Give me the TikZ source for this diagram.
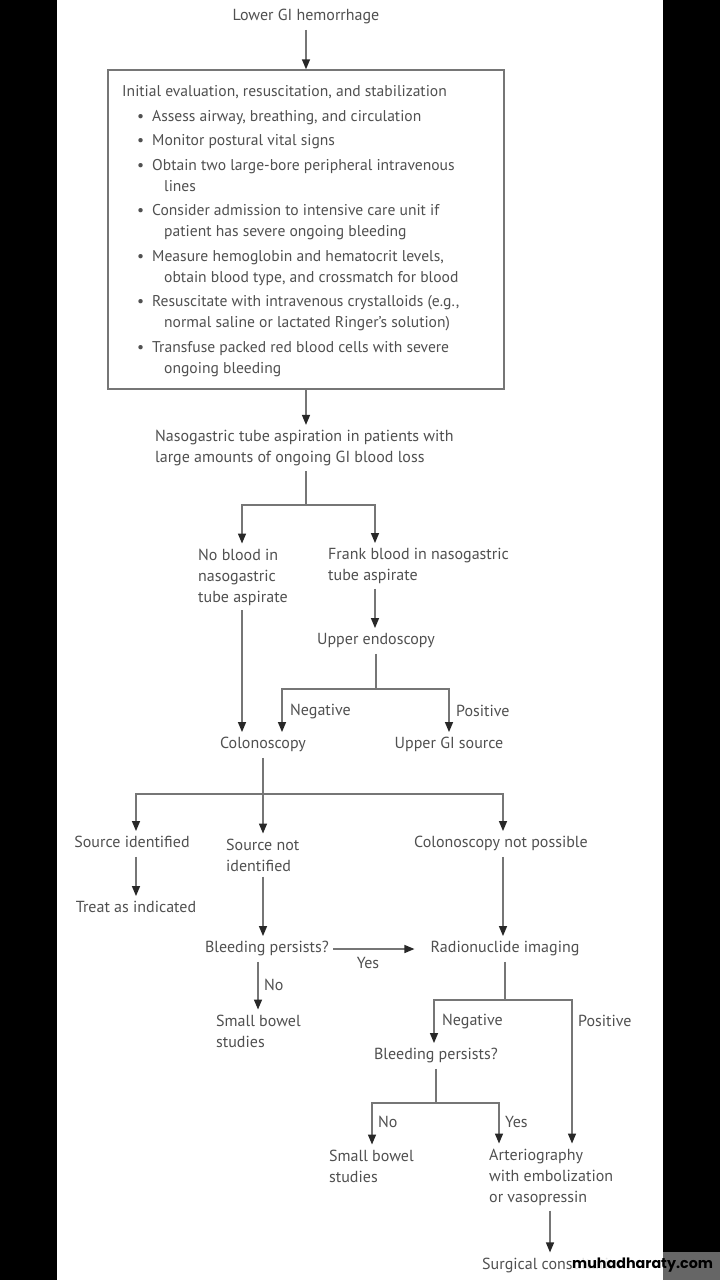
\documentclass[tikz,border=0pt]{standalone}
\usepackage{fontspec}
\setmainfont{PT Sans}
\newfontfamily\wmfont{Poppins}
\usetikzlibrary{arrows.meta,calc}
\definecolor{txt}{RGB}{80,80,80}
\definecolor{lncol}{RGB}{118,118,118}
\definecolor{hdcol}{RGB}{40,40,40}
\newcommand\bi{\hspace*{15pt}\makebox[15pt][l]{•}}
\newcommand\bc{\hspace*{42pt}}
\begin{document}
\begin{tikzpicture}[x=1pt,y=-1pt,
  lbl/.style={text=txt, font=\fontsize{16}{21}\selectfont, inner xsep=2pt, inner ysep=5pt, align=left},
  one/.style={lbl, text height=11.5pt, text depth=4pt},
  multi/.style={lbl, anchor=west},
  tag/.style={lbl, anchor=west, inner ysep=0pt},
  conn/.style={draw=lncol, line width=1.4pt},
  arr/.style={conn, -{Triangle[length=10pt,width=8pt,color=hdcol]}}]
\useasboundingbox (0,0) rectangle (720,1280);
\fill[white] (57,0) rectangle (663,1280);
\fill[black] (0,0) rectangle (57,1280);
\fill[black] (663,0) rectangle (720,1280);

% column helpers
\coordinate (x136) at (136,0);
\coordinate (x242) at (242,0);
\coordinate (x258) at (258,0);
\coordinate (x263) at (263,0);
\coordinate (x282) at (282,0);
\coordinate (x306) at (306,0);
\coordinate (x372) at (372,0);
\coordinate (x375) at (375,0);
\coordinate (x434) at (434,0);
\coordinate (x449) at (449,0);
\coordinate (x499) at (499,0);
\coordinate (x503) at (503,0);
\coordinate (x550) at (550,0);
\coordinate (x572) at (572,0);

% nodes
\node[one] (lower) at (306,17) {Lower GI hemorrhage};
\node[draw=lncol, line width=1.4pt, minimum width=396pt, minimum height=319pt, inner sep=0pt] (init) at (306,229.5) {};
\node[lbl, anchor=north west, inner sep=0pt, font=\fontsize{15.6}{21}\selectfont] (initxt) at (122,85.5) {%
Initial evaluation, resuscitation, and stabilization\\[3.5pt]
\bi Assess airway, breathing, and circulation\\[3.5pt]
\bi Monitor postural vital signs\\[3.5pt]
\bi Obtain two large-bore peripheral intravenous\\
\bc lines\\[3.5pt]
\bi Consider admission to intensive care unit if\\
\bc patient has severe ongoing bleeding\\[3.5pt]
\bi Measure hemoglobin and hematocrit levels,\\
\bc obtain blood type, and crossmatch for blood\\[3.5pt]
\bi Resuscitate with intravenous crystalloids (e.g.,\\
\bc normal saline or lactated Ringer’s solution)\\[3.5pt]
\bi Transfuse packed red blood cells with severe\\
\bc ongoing bleeding};
\node[multi] (ng) at (153,448) {Nasogastric tube aspiration in patients with\\large amounts of ongoing GI blood loss};
\node[multi] (nob) at (196,577) {No blood in\\nasogastric\\tube aspirate};
\node[multi] (frank) at (326,566) {Frank blood in nasogastric\\tube aspirate};
\node[one] (uendo) at (376,641) {Upper endoscopy};
\node[one] (colo) at (263,745) {Colonoscopy};
\node[one] (ugi) at (449,745) {Upper GI source};
\node[one] (srcid) at (132,844) {Source identified};
\node[multi] (srcnot) at (224,855) {Source not\\identified};
\node[one] (cnp) at (501,844) {Colonoscopy not possible};
\node[one] (treat) at (136,909) {Treat as indicated};
\node[one] (bp1) at (267,949) {Bleeding persists?};
\node[one] (radio) at (505,949) {Radionuclide imaging};
\node[multi] (sbs1) at (214,1031) {Small bowel\\studies};
\node[one] (bp2) at (436,1056) {Bleeding persists?};
\node[multi] (sbs2) at (327,1166) {Small bowel\\studies};
\node[multi] (arterio) at (487,1177) {Arteriography\\with embolization\\or vasopressin};
\node[multi] (surg) at (480,1265) {Surgical consultation};

% labels
\node[tag] (neg1) at (288,711) {Negative};
\node[tag] (pos1) at (454,711) {Positive};
\node[lbl, inner ysep=0pt] (yes1) at (368,963) {Yes};
\node[tag] (no1) at (262,985) {No};
\node[tag] (neg2) at (440,1021) {Negative};
\node[tag] (pos2) at (576,1021) {Positive};
\node[tag] (no2) at (376,1122) {No};
\node[tag] (yes2) at (503,1122) {Yes};

% junctions
\coordinate (j1) at (306,505);
\coordinate (j2) at (376,689);
\coordinate (j3) at (263,794);
\coordinate (j4) at (505,1000);
\coordinate (j5) at (436,1103);

% connectors
\draw[arr] (lower) -- (init.north);
\draw[arr] (init.south) -- (ng.north -| x306);
\draw[conn] (ng.south -| x306) -- (j1);
\draw[arr] (j1) -| (nob.north -| x242);
\draw[arr] (j1) -| (frank.north -| x375);
\draw[arr] (frank.south -| x375) -- (uendo.north -| x375);
\draw[conn] (uendo.south) -- (j2);
\draw[arr] (j2) -| (colo.north -| x282);
\draw[arr] (j2) -| (ugi.north -| x449);
\draw[arr] (nob.south -| x242) -- (colo.north -| x242);
\draw[conn] (colo.south) -- (j3);
\draw[arr] (j3) -| (srcid.north -| x136);
\draw[arr] (j3) -- (srcnot.north -| x263);
\draw[arr] (j3) -| (cnp.north -| x503);
\draw[arr] (srcid.south -| x136) -- (treat.north -| x136);
\draw[arr] (srcnot.south -| x263) -- (bp1.north -| x263);
\draw[arr, shorten <=2pt, shorten >=14pt] (bp1.east) -- (radio.west);
\draw[arr] (cnp.south -| x503) -- (radio.north -| x503);
\draw[arr] (bp1.south -| x258) -- (sbs1.north -| x258);
\draw[conn] (radio.south) -- (j4);
\draw[arr] (j4) -| (bp2.north -| x434);
\draw[arr] (j4) -| (arterio.north -| x572);
\draw[conn] (bp2.south) -- (j5);
\draw[arr] (j5) -| (sbs2.north -| x372);
\draw[arr] (j5) -| (arterio.north -| x499);
\draw[arr] (arterio.south -| x550) -- (surg.north -| x550);

% watermark
\fill[white, opacity=0.4] (663,1252) rectangle (720,1280);
\fill[white, opacity=0.85] (572,1254) rectangle (663,1280);
\node[text=black, anchor=west, inner xsep=0pt, inner ysep=3pt,
      font=\wmfont\bfseries\fontsize{14.3}{15}\selectfont] (wm) at (572,1265) {muhadharaty.com};
\end{tikzpicture}
\end{document}
